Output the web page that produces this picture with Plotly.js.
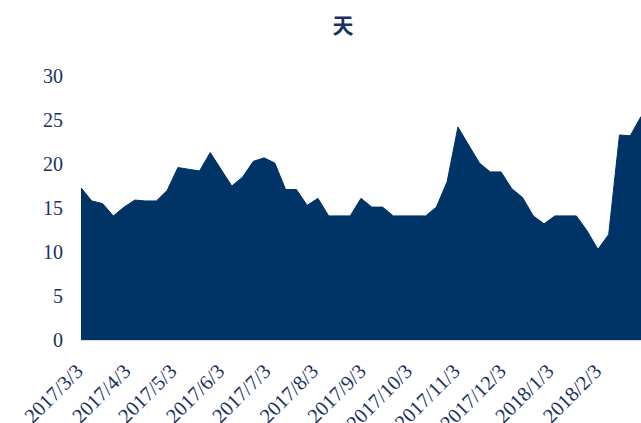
<!DOCTYPE html>
<html>
<head>
<meta charset="utf-8">
<script src="https://cdn.plot.ly/plotly-3.0.1.min.js"></script>
<style>html,body{margin:0;padding:0;background:#fff;}#chart{width:641px;height:423px;}</style>
</head>
<body>
<div id="chart"></div>
<script>
const dates = [
  "2017-03-03","2017-03-10","2017-03-17","2017-03-24","2017-03-31",
  "2017-04-07","2017-04-14","2017-04-21","2017-04-28",
  "2017-05-05","2017-05-12","2017-05-19","2017-05-26",
  "2017-06-02","2017-06-09","2017-06-16","2017-06-23","2017-06-30",
  "2017-07-07","2017-07-14","2017-07-21","2017-07-28",
  "2017-08-04","2017-08-11","2017-08-18","2017-08-25",
  "2017-09-01","2017-09-08","2017-09-15","2017-09-22","2017-09-29",
  "2017-10-06","2017-10-13","2017-10-20","2017-10-27",
  "2017-11-03","2017-11-10","2017-11-17","2017-11-24",
  "2017-12-01","2017-12-08","2017-12-15","2017-12-22","2017-12-29",
  "2018-01-05","2018-01-12","2018-01-19","2018-01-26",
  "2018-02-02","2018-02-09","2018-02-16","2018-02-23","2018-03-02"
];
const days = [
  17.3,15.8,15.5,14.1,15.1,
  15.9,15.8,15.8,17.0,
  19.6,19.4,19.2,21.3,
  19.4,17.5,18.5,20.3,20.7,
  20.1,17.1,17.1,15.3,
  16.1,14.1,14.1,14.1,
  16.1,15.1,15.1,14.1,14.1,
  14.1,14.1,15.1,18.0,
  24.2,22.1,20.1,19.1,
  19.1,17.2,16.2,14.1,13.2,
  14.1,14.1,14.1,12.4,
  10.3,12.0,23.3,23.2,25.4
];
const tickDates = ["2017-03-03","2017-04-03","2017-05-03","2017-06-03","2017-07-03","2017-08-03",
  "2017-09-03","2017-10-03","2017-11-03","2017-12-03","2018-01-03","2018-02-03"];
const tickLabels = ["2017/3/3","2017/4/3","2017/5/3","2017/6/3","2017/7/3","2017/8/3",
  "2017/9/3","2017/10/3","2017/11/3","2017/12/3","2018/1/3","2018/2/3"];
const yTicks = [0,5,10,15,20,25,30];
const titleText = "天";

const navy = "#003366";
const textColor = "#1b3161";

Plotly.newPlot("chart", [{
  x: dates, y: days, type: "scatter", mode: "lines",
  fill: "tozeroy", fillcolor: navy,
  line: {color: navy, width: 1, shape: "linear"},
  hoverinfo: "skip"
}], {
  width: 641, height: 423,
  margin: {l: 81, r: 0, t: 76, b: 83},
  paper_bgcolor: "#fff", plot_bgcolor: "#fff",
  showlegend: false,
  title: {text: "<b>" + titleText + "</b>", x: 0.535, xanchor: "center", y: 0.94, yanchor: "middle",
    font: {family: "Noto Sans CJK SC", size: 21, color: textColor}},
  xaxis: {
    type: "date", range: ["2017-03-03", "2018-03-02"],
    tickvals: tickDates, ticktext: tickLabels, tickangle: -45,
    showgrid: false, zeroline: false, showline: true, linecolor: "#d9d9d9", linewidth: 1,
    ticks: "", ticklabelstandoff: 10, ticklabelshift: -4,
    tickfont: {family: "Liberation Serif", size: 20.5, color: textColor}
  },
  yaxis: {
    range: [0, 30], tickvals: yTicks, ticktext: yTicks.map(String),
    showgrid: false, zeroline: false, showline: false,
    ticks: "", ticklabelstandoff: 17,
    tickfont: {family: "Liberation Serif", size: 20, color: textColor}
  }
}, {displayModeBar: false, staticPlot: true});
</script>
</body>
</html>
